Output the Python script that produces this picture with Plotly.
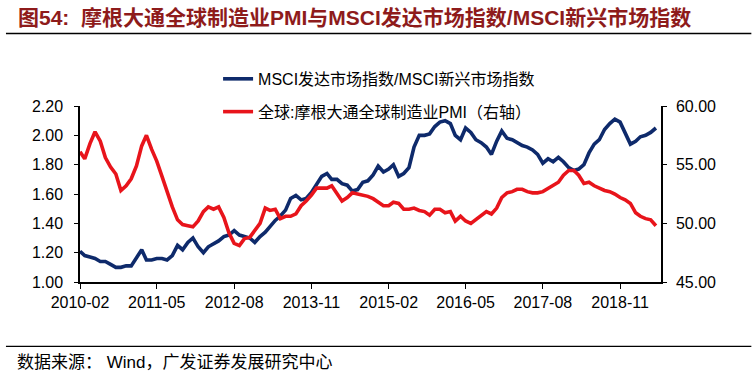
import plotly.graph_objects as go
import pandas as pd

# ---- data (monthly, 2010-02 .. 2019-06) ----
months = pd.date_range("2010-02-01", periods=113, freq="MS")

msci_ratio = [
    1.21, 1.18, 1.17, 1.16, 1.14, 1.14, 1.12, 1.10, 1.10, 1.11,
    1.11, 1.16, 1.22, 1.15, 1.15, 1.16, 1.16, 1.15, 1.18, 1.25,
    1.22, 1.27, 1.30, 1.24, 1.20, 1.24, 1.26, 1.28, 1.31, 1.32,
    1.35, 1.32, 1.31, 1.30, 1.27, 1.31, 1.34, 1.38, 1.42, 1.45,
    1.49, 1.57, 1.59, 1.56, 1.57, 1.61, 1.67, 1.72, 1.74, 1.70,
    1.70, 1.67, 1.66, 1.62, 1.63, 1.68, 1.69, 1.73, 1.79, 1.75,
    1.77, 1.80, 1.72, 1.74, 1.78, 1.92, 2.00, 2.00, 2.01, 2.06,
    2.09, 2.10, 2.08, 2.00, 1.97, 2.05, 2.02, 1.97, 1.95, 1.92,
    1.87, 1.96, 2.03, 1.98, 1.97, 1.95, 1.93, 1.92, 1.90, 1.87,
    1.81, 1.84, 1.82, 1.85, 1.82, 1.78, 1.76, 1.77, 1.80, 1.88,
    1.94, 1.97, 2.04, 2.08, 2.11, 2.09, 2.02, 1.94, 1.96, 1.99,
    2.00, 2.02, 2.05,
]

global_pmi = [
    56.1, 55.5, 56.8, 57.8, 57.0, 55.6, 54.8, 54.2, 52.8, 53.2,
    53.8, 54.9, 56.6, 57.5, 56.3, 55.3, 54.0, 52.6, 51.4, 50.3,
    49.9, 49.8, 49.7, 50.2, 51.0, 51.4, 51.2, 51.4, 50.5, 49.2,
    48.3, 48.1, 48.7, 48.8, 49.4, 50.0, 51.3, 51.1, 51.2, 50.4,
    50.6, 50.6, 50.8, 51.5, 51.9, 52.4, 53.0, 53.0, 53.0, 53.2,
    52.5, 51.9, 52.2, 52.6, 52.5, 52.4, 52.3, 52.1, 51.8, 51.5,
    51.5, 51.8, 51.7, 51.2, 51.2, 51.3, 51.1, 51.0, 50.7, 51.2,
    51.2, 50.9, 51.0, 50.2, 50.6, 50.2, 50.0, 50.3, 50.7, 51.0,
    50.8, 51.3, 52.2, 52.6, 52.7, 52.9, 52.9, 52.7, 52.6, 52.6,
    52.7, 53.0, 53.2, 53.5, 54.1, 54.5, 54.5, 54.1, 53.4, 53.5,
    53.2, 53.0, 52.8, 52.7, 52.5, 52.2, 52.0, 51.7, 50.9, 50.6,
    50.4, 50.3, 49.8,
]

x_tick_labels = ["2010-02", "2011-05", "2012-08", "2013-11",
                 "2015-02", "2016-05", "2017-08", "2018-11"]
left_ticks = [1.00, 1.20, 1.40, 1.60, 1.80, 2.00, 2.20]
right_ticks = [45, 50, 55, 60]

name_ratio = "MSCI发达市场指数/MSCI新兴市场指数"
name_pmi = "全球:摩根大通全球制造业PMI（右轴）"
title_text = "图54:  摩根大通全球制造业PMI与MSCI发达市场指数/MSCI新兴市场指数"
source_text = "数据来源： Wind，广发证券发展研究中心"

NAVY = "#0E2A6B"
RED = "#E8141B"
FONT = "Liberation Sans, Arial, Noto Sans CJK SC, sans-serif"
CJK = "Liberation Sans, Noto Sans CJK SC, sans-serif"

PL, PR, PT, PB = 80, 660.7, 106, 281.7
PW, PH = PR - PL, PB - PT


def px(x):
    return (x - PL) / PW


def py(y):
    return (PB - y) / PH


fig = go.Figure()
fig.add_trace(go.Scatter(
    x=months, y=msci_ratio, name=name_ratio, mode="lines",
    line=dict(color=NAVY, width=3.6), legendgroup="a", yaxis="y"))
fig.add_trace(go.Scatter(
    x=months, y=global_pmi, name=name_pmi, mode="lines",
    line=dict(color=RED, width=3.6), legendgroup="b", yaxis="y2"))

fig.update_layout(
    width=756, height=378,
    margin=dict(l=PL, r=756 - PR, t=PT, b=378 - PB),
    paper_bgcolor="white", plot_bgcolor="white",
    font=dict(family=FONT, size=16, color="#000000"),
    showlegend=True,
    legend=dict(x=px(218), y=py(62), xanchor="left", yanchor="top",
                bgcolor="rgba(0,0,0,0)", tracegroupgap=9,
                font=dict(family=CJK, size=16, color="#000000")),
    xaxis=dict(
        type="date",
        range=["2010-02-01", "2019-07-01"],
        tickvals=[pd.Timestamp(t + "-01") for t in x_tick_labels],
        ticktext=x_tick_labels,
        showgrid=False, zeroline=False,
        showline=True, linecolor="#000000", linewidth=1.5,
        ticks="outside", ticklen=5, tickcolor="#000000", tickwidth=1,
        tickfont=dict(size=16),
    ),
    yaxis=dict(
        range=[1.0, 2.2], tickvals=left_ticks,
        ticktext=[f"{v:.2f}" for v in left_ticks],
        showgrid=False, zeroline=False,
        showline=True, linecolor="#000000", linewidth=1.5,
        ticks="outside", ticklen=4, tickcolor="#000000",
        tickfont=dict(size=16), ticklabelstandoff=8,
    ),
    yaxis2=dict(
        range=[45, 60], tickvals=right_ticks,
        ticktext=[f"{v:.2f}" for v in right_ticks],
        overlaying="y", side="right",
        showgrid=False, zeroline=False,
        showline=True, linecolor="#000000", linewidth=1.5,
        ticks="outside", ticklen=4, tickcolor="#000000",
        tickfont=dict(size=16), ticklabelstandoff=6,
    ),
)

# Title, separators, source note
fig.add_annotation(xref="paper", yref="paper", x=px(16), y=py(18),
                   xanchor="left", yanchor="middle",
                   text="<b>" + title_text + "</b>", showarrow=False,
                   font=dict(family=CJK, size=21, color="#8E1B1B"))
fig.add_shape(type="line", xref="paper", yref="paper",
              x0=px(6), x1=px(751), y0=py(33.5), y1=py(33.5),
              line=dict(color="#000000", width=1.5))
fig.add_shape(type="line", xref="paper", yref="paper",
              x0=px(6), x1=px(751), y0=py(346), y1=py(346),
              line=dict(color="#000000", width=1.2))
fig.add_annotation(xref="paper", yref="paper", x=px(15), y=py(362),
                   xanchor="left", yanchor="middle",
                   text=source_text, showarrow=False,
                   font=dict(family=CJK, size=17, color="#000000"))

fig.write_html(
    "out.html",
    config={"displayModeBar": False},
    post_script="document.body.style.margin='0';"
                "document.body.style.overflow='hidden';",
)
